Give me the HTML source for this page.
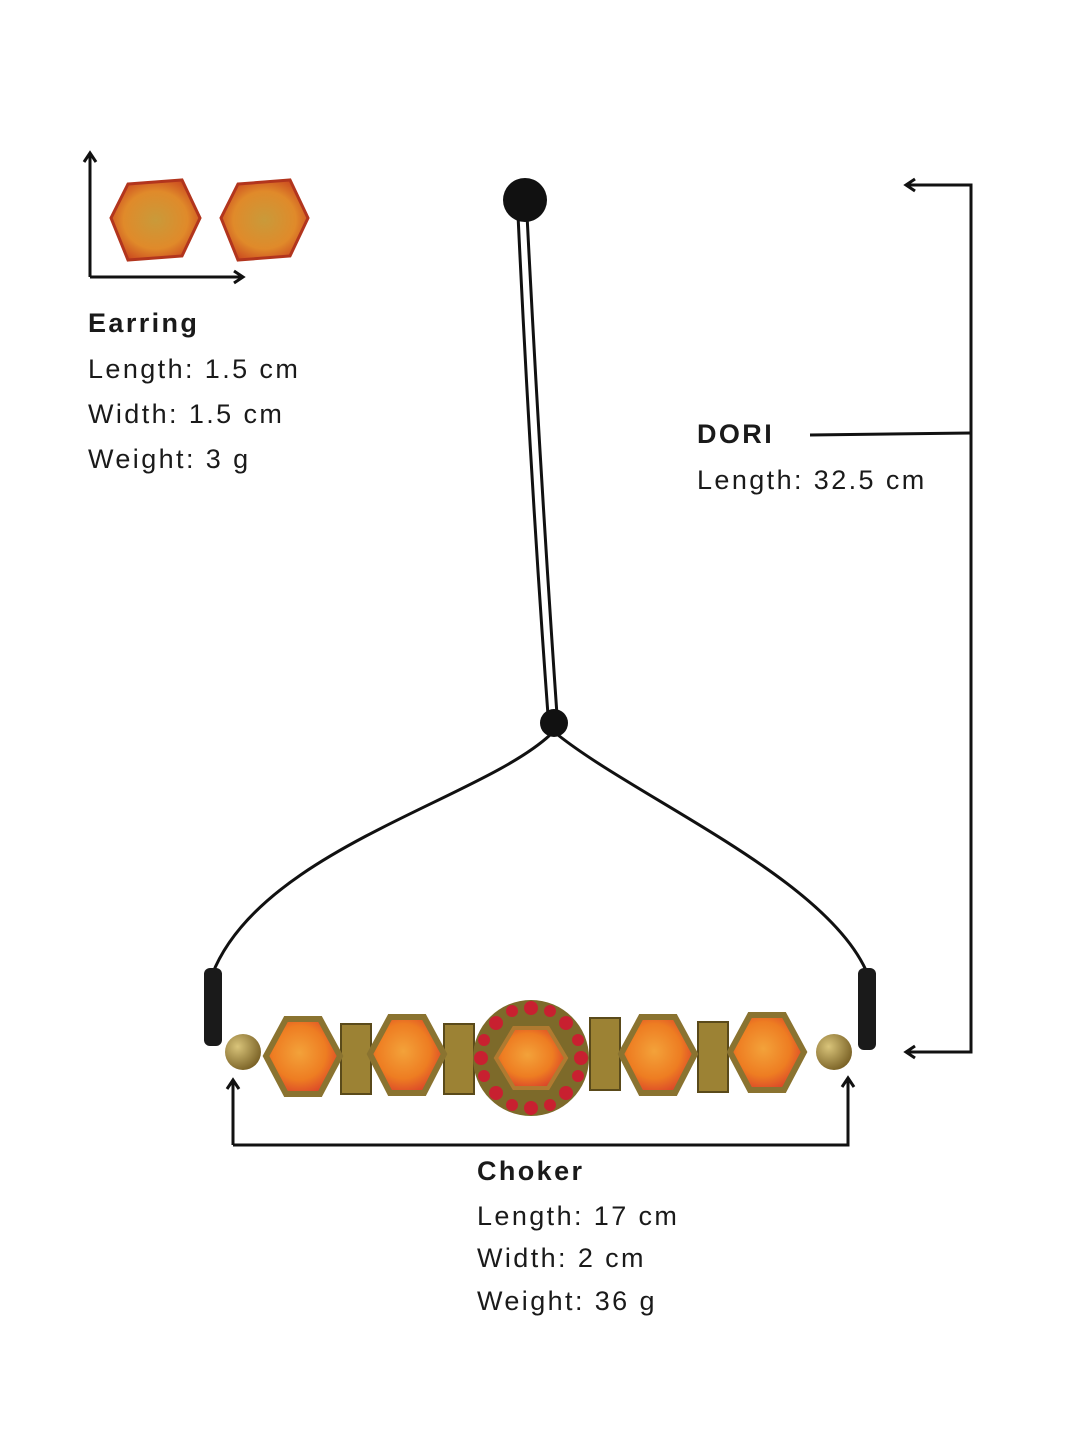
<!DOCTYPE html>
<html><head><meta charset="utf-8"><style>
html,body{margin:0;padding:0;background:#fff;}
body{width:1080px;height:1440px;position:relative;overflow:hidden;font-family:"Liberation Sans",sans-serif;color:#1a1a1a;}
.t{position:absolute;font-size:27px;letter-spacing:2.4px;line-height:1;white-space:nowrap;}
.h{font-weight:600;letter-spacing:2.4px;}
</style></head><body>
<svg width="1080" height="1440" style="position:absolute;left:0;top:0">
<defs>
<radialGradient id="og" cx="45%" cy="45%" r="60%"><stop offset="0" stop-color="#f3a23a"/><stop offset="0.6" stop-color="#ee7d22"/><stop offset="1" stop-color="#d8402a"/></radialGradient>
<radialGradient id="eg" cx="50%" cy="50%" r="60%"><stop offset="0" stop-color="#c99a3a"/><stop offset="0.6" stop-color="#e08a2a"/><stop offset="1" stop-color="#c8401e"/></radialGradient>
<radialGradient id="gb" cx="35%" cy="35%" r="70%"><stop offset="0" stop-color="#d9c47a"/><stop offset="1" stop-color="#7a6226"/></radialGradient>
</defs>
<g stroke="#111" stroke-width="3" fill="none">
<path d="M90 277 V153 M84 162 L90 153 L96 162"/>
<path d="M90 277 H243 M234 271 L243 277 L234 283"/>
<path d="M906 185 H971 V1052 H906 M915 179 L906 185 L915 191 M915 1046 L906 1052 L915 1058"/>
<path d="M810 435 L971 433"/>
<path d="M233 1145 V1080 M227 1089 L233 1080 L239 1089"/>
<path d="M233 1145 H848 V1078 M842 1087 L848 1078 L854 1087"/>
</g>
<polygon points="128,184 182,180 200,218 182,256 128,260 111,218" fill="url(#eg)" stroke="#b2351d" stroke-width="3"/>
<polygon points="238,184 290,180 308,218 290,256 238,260 221,218" fill="url(#eg)" stroke="#b2351d" stroke-width="3"/>
<g stroke="#111" stroke-width="3" fill="none">
<path d="M518 215 Q530 470 548 715"/><path d="M527 215 Q540 470 557 715"/>
<path d="M550 735 C480 800 260 850 212 975"/>
<path d="M558 735 C640 800 830 880 868 975"/>
</g>
<circle cx="525" cy="200" r="22" fill="#111"/>
<circle cx="554" cy="723" r="14" fill="#111"/>
<rect x="204" y="968" width="18" height="78" rx="6" fill="#1a1a1a"/>
<rect x="858" y="968" width="18" height="82" rx="6" fill="#1a1a1a"/>
<circle cx="243" cy="1052" r="18" fill="url(#gb)"/>
<circle cx="834" cy="1052" r="18" fill="url(#gb)"/>
<g fill="#9c8234" stroke="#5a4a1a" stroke-width="2">
<rect x="341" y="1024" width="30" height="70"/><rect x="444" y="1024" width="30" height="70"/>
<rect x="590" y="1018" width="30" height="72"/><rect x="698" y="1022" width="30" height="70"/>
</g>
<g stroke="#8a7330" stroke-width="6">
<polygon points="286,1019 320,1019 340,1056 320,1094 286,1094 266,1056" fill="url(#og)"/>
<polygon points="390,1017 424,1017 444,1054 424,1093 390,1093 370,1054" fill="url(#og)"/>
<polygon points="641,1017 675,1017 695,1054 675,1093 641,1093 621,1054" fill="url(#og)"/>
<polygon points="750,1015 784,1015 804,1052 784,1090 750,1090 730,1052" fill="url(#og)"/>
</g>
<circle cx="531" cy="1058" r="58" fill="#7d6a2a"/>
<g fill="#c82030">
<circle cx="531" cy="1008" r="7"/><circle cx="531" cy="1108" r="7"/><circle cx="481" cy="1058" r="7"/><circle cx="581" cy="1058" r="7"/>
<circle cx="496" cy="1023" r="7"/><circle cx="566" cy="1023" r="7"/><circle cx="496" cy="1093" r="7"/><circle cx="566" cy="1093" r="7"/>
<circle cx="512" cy="1011" r="6"/><circle cx="550" cy="1011" r="6"/><circle cx="512" cy="1105" r="6"/><circle cx="550" cy="1105" r="6"/>
<circle cx="484" cy="1040" r="6"/><circle cx="484" cy="1076" r="6"/><circle cx="578" cy="1040" r="6"/><circle cx="578" cy="1076" r="6"/>
</g>
<polygon points="514,1028 548,1028 566,1058 548,1088 514,1088 496,1058" fill="url(#og)" stroke="#b07a30" stroke-width="4"/>
</svg>
<div class="t h" style="left:88px;top:310px">Earring</div>
<div class="t" style="left:88px;top:356px">Length: 1.5 cm</div>
<div class="t" style="left:88px;top:401px">Width: 1.5 cm</div>
<div class="t" style="left:88px;top:446px">Weight: 3 g</div>
<div class="t h" style="left:697px;top:421px">DORI</div>
<div class="t" style="left:697px;top:467px">Length: 32.5 cm</div>
<div class="t h" style="left:477px;top:1158px">Choker</div>
<div class="t" style="left:477px;top:1203px">Length: 17 cm</div>
<div class="t" style="left:477px;top:1245px">Width: 2 cm</div>
<div class="t" style="left:477px;top:1288px">Weight: 36 g</div>
</body></html>
